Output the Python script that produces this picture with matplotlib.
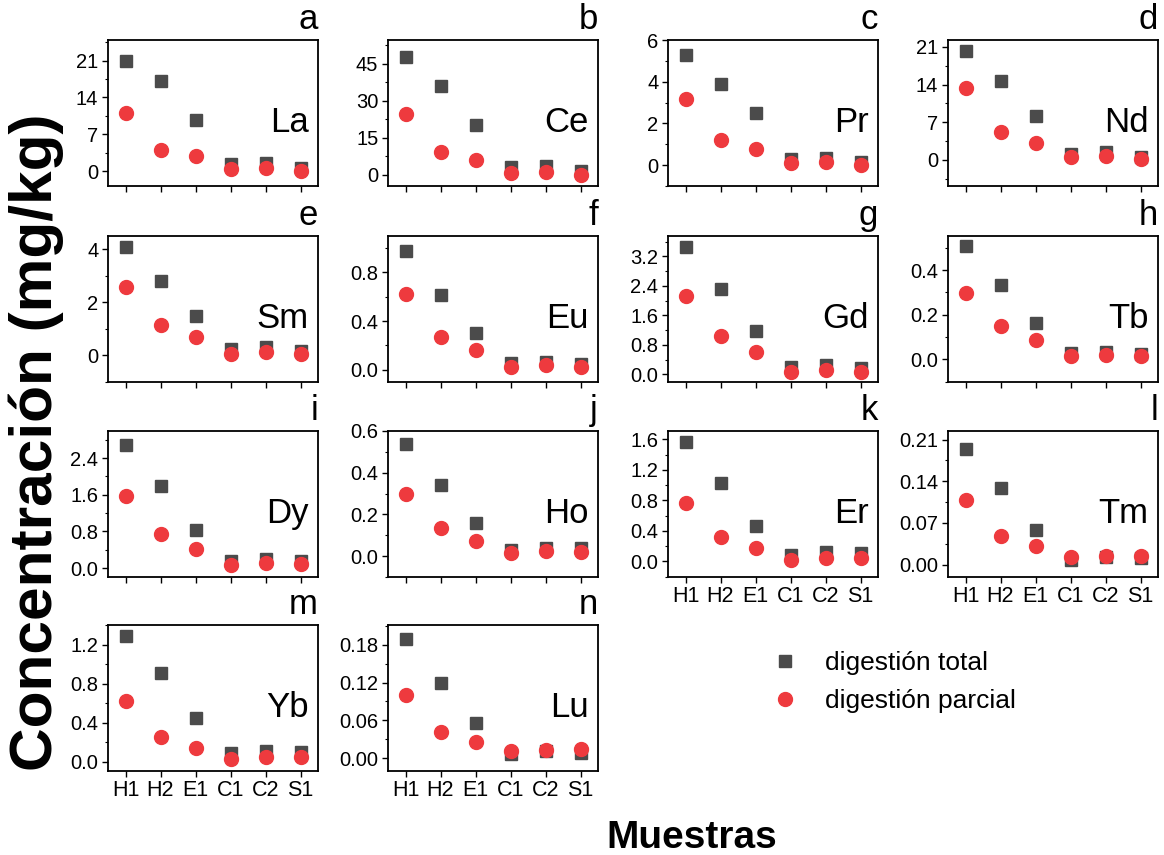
import numpy as np
import matplotlib.pyplot as plt
from matplotlib.ticker import MultipleLocator, AutoMinorLocator, FormatStrFormatter
from matplotlib.lines import Line2D

plt.rcParams['font.family'] = ['Liberation Sans', 'DejaVu Sans']

# Datos (mg/kg)
muestras = ['H1', 'H2', 'E1', 'C1', 'C2', 'S1']
elementos = ['La', 'Ce', 'Pr', 'Nd', 'Sm', 'Eu', 'Gd', 'Tb', 'Dy', 'Ho', 'Er', 'Tm', 'Yb', 'Lu']
letras = ['a', 'b', 'c', 'd', 'e', 'f', 'g', 'h', 'i', 'j', 'k', 'l', 'm', 'n']

la_total = [21.0, 17.2, 9.8, 1.4, 1.6, 0.6]
la_parcial = [11.1, 4.1, 2.9, 0.4, 0.6, 0.1]
ce_total = [47.6, 36.0, 20.0, 3.0, 3.4, 1.4]
ce_parcial = [24.8, 9.3, 6.0, 0.8, 1.2, 0.1]
pr_total = [5.3, 3.9, 2.5, 0.3, 0.35, 0.15]
pr_parcial = [3.18, 1.2, 0.77, 0.11, 0.16, 0.03]
nd_total = [20.2, 14.7, 8.1, 1.1, 1.4, 0.6]
nd_parcial = [13.3, 5.2, 3.1, 0.5, 0.75, 0.25]
sm_total = [4.07, 2.78, 1.48, 0.24, 0.31, 0.16]
sm_parcial = [2.59, 1.13, 0.68, 0.07, 0.14, 0.05]
eu_total = [0.975, 0.616, 0.304, 0.055, 0.066, 0.044]
eu_parcial = [0.62, 0.27, 0.16, 0.025, 0.038, 0.02]
gd_total = [3.45, 2.31, 1.16, 0.2, 0.25, 0.17]
gd_parcial = [2.11, 1.03, 0.61, 0.06, 0.11, 0.05]
tb_total = [0.506, 0.332, 0.164, 0.028, 0.034, 0.025]
tb_parcial = [0.298, 0.149, 0.088, 0.015, 0.022, 0.015]
dy_total = [2.69, 1.78, 0.82, 0.15, 0.2, 0.15]
dy_parcial = [1.57, 0.75, 0.41, 0.065, 0.11, 0.08]
ho_total = [0.536, 0.341, 0.16, 0.03, 0.038, 0.037]
ho_parcial = [0.299, 0.133, 0.075, 0.016, 0.024, 0.021]
er_total = [1.57, 1.03, 0.47, 0.09, 0.12, 0.11]
er_parcial = [0.765, 0.32, 0.18, 0.022, 0.05, 0.045]
tm_total = [0.194, 0.129, 0.059, 0.0085, 0.013, 0.011]
tm_parcial = [0.108, 0.048, 0.031, 0.013, 0.015, 0.015]
yb_total = [1.29, 0.91, 0.45, 0.085, 0.11, 0.10]
yb_parcial = [0.62, 0.256, 0.143, 0.03, 0.05, 0.05]
lu_total = [0.189, 0.119, 0.056, 0.0058, 0.011, 0.0085]
lu_parcial = [0.101, 0.041, 0.025, 0.011, 0.0127, 0.0137]

totales = [la_total, ce_total, pr_total, nd_total, sm_total, eu_total, gd_total,
           tb_total, dy_total, ho_total, er_total, tm_total, yb_total, lu_total]
parciales = [la_parcial, ce_parcial, pr_parcial, nd_parcial, sm_parcial, eu_parcial,
             gd_parcial, tb_parcial, dy_parcial, ho_parcial, er_parcial, tm_parcial,
             yb_parcial, lu_parcial]

# ejes: (ymin, ymax, paso mayor, decimales)
ejes_y = [(-2.8, 24.9, 7, 0), (-4.5, 54.6, 15, 0), (-1.0, 6.0, 2, 0), (-4.85, 22.3, 7, 0),
          (-1.0, 4.49, 2, 0), (-0.10, 1.10, 0.4, 1), (-0.21, 3.75, 0.8, 1),
          (-0.101, 0.553, 0.2, 1), (-0.196, 2.99, 0.8, 1), (-0.10, 0.60, 0.2, 1),
          (-0.205, 1.71, 0.4, 1), (-0.0207, 0.2245, 0.07, 2), (-0.096, 1.40, 0.4, 1),
          (-0.0206, 0.2116, 0.06, 2)]

gris = '#4b4b4b'
rojo = '#ee3a3e'

W, H = 1164, 855
fig = plt.figure(figsize=(W / 100, H / 100), dpi=100)

izq = [108, 388, 668, 948]
sup = [40, 236, 431, 625]
ancho, alto = 210, 146

x = np.arange(len(muestras))
for i, el in enumerate(elementos):
    fila, col = divmod(i, 4)
    ax = fig.add_axes([izq[col] / W, 1 - (sup[fila] + alto) / H, ancho / W, alto / H])
    ax.plot(x, totales[i], 's', color=gris, markersize=8.8, linestyle='none', zorder=3)
    ax.plot(x, parciales[i], 'o', color=rojo, markersize=10, linestyle='none', zorder=4)

    ymin, ymax, paso, dec = ejes_y[i]
    ax.set_ylim(ymin, ymax)
    ax.set_xlim(-0.5, 5.5)
    ax.yaxis.set_major_locator(MultipleLocator(paso))
    ax.yaxis.set_minor_locator(AutoMinorLocator(2))
    ax.yaxis.set_major_formatter(FormatStrFormatter('%.{}f'.format(dec)))
    ax.set_xticks(x)
    # etiquetas x solo en el panel inferior de cada columna
    if i in (10, 11, 12, 13):
        ax.set_xticklabels(muestras)
    else:
        ax.set_xticklabels([])
    ax.tick_params(axis='both', which='major', direction='out', length=4.5, width=1,
                   labelsize=14.5, pad=2.5)
    ax.tick_params(axis='x', labelsize=15.5, pad=2)
    ax.tick_params(axis='y', which='minor', direction='out', length=2.5, width=0.8)
    for s in ax.spines.values():
        s.set_linewidth(1.3)

    ax.text(0.955, 0.37, el, transform=ax.transAxes, ha='right', va='baseline', fontsize=25)
    ax.text(1.0, 1.03, letras[i], transform=ax.transAxes, ha='right', va='bottom', fontsize=25)

fig.text(36 / W, 1 - 442 / H, 'Concentración (mg/kg)', rotation=90, ha='center',
         va='center', fontsize=43.5, fontweight='bold')
fig.text(692 / W, 1 - 838 / H, 'Muestras', ha='center', va='center', fontsize=28,
         fontweight='bold')

handles = [Line2D([], [], marker='s', color=gris, linestyle='none', markersize=8.8),
           Line2D([], [], marker='o', color=rojo, linestyle='none', markersize=10)]
fig.legend(handles, ['digestión total', 'digestión parcial'], loc='center left',
           bbox_to_anchor=(772 / W, 1 - 682 / H), frameon=False, fontsize=19,
           borderaxespad=0, borderpad=0, handlelength=1.0, handletextpad=1.0,
           labelspacing=0.55)

fig.savefig('out.png', dpi=100)
